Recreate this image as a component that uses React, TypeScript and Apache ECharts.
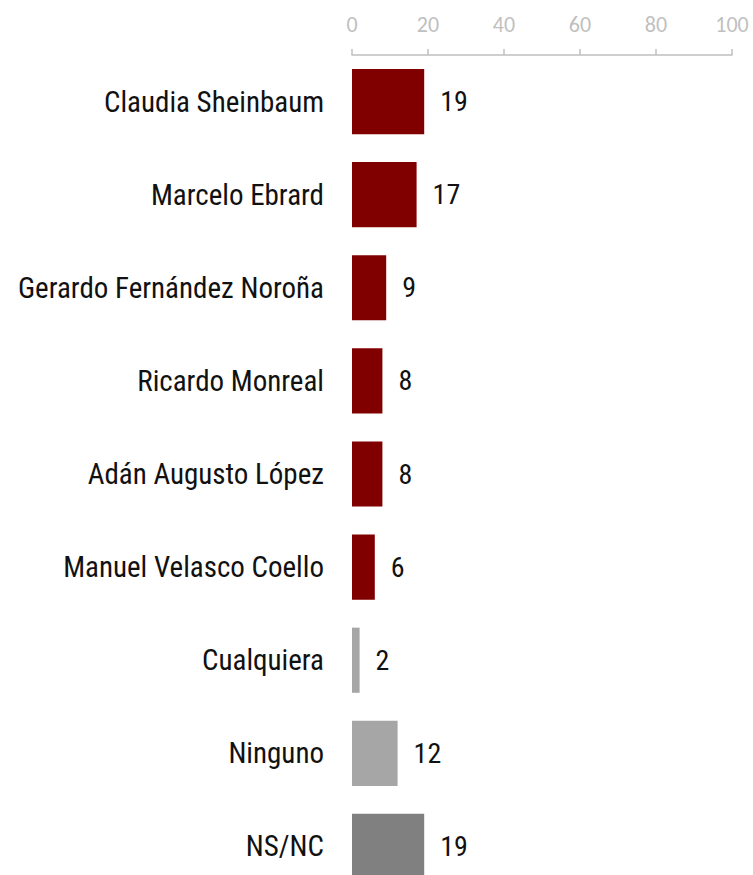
import React, { useEffect, useRef } from "react";
import * as echarts from "echarts";

const categories = [
  "Claudia Sheinbaum",
  "Marcelo Ebrard",
  "Gerardo Fernández Noroña",
  "Ricardo Monreal",
  "Adán Augusto López",
  "Manuel Velasco Coello",
  "Cualquiera",
  "Ninguno",
  "NS/NC",
];
const values = [19, 17, 9, 8, 8, 6, 2, 12, 19];
const barColors = [
  "#800000",
  "#800000",
  "#800000",
  "#800000",
  "#800000",
  "#800000",
  "#a6a6a6",
  "#a6a6a6",
  "#808080",
];
const labelFont = "'Roboto Condensed', 'Liberation Sans Narrow', 'DejaVu Sans Condensed', Roboto, sans-serif";

export default function App() {
  const ref = useRef<HTMLDivElement>(null);
  useEffect(() => {
    document.body.style.margin = "0";
    const chart = echarts.init(ref.current!, undefined, { renderer: "svg" });
    chart.setOption({
      animation: false,
      grid: { left: 352, right: 21, top: 55, bottom: 0, containLabel: false },
      xAxis: {
        type: "value",
        position: "top",
        min: 0,
        max: 100,
        interval: 20,
        splitLine: { show: false },
        axisLine: { show: true, lineStyle: { color: "#bfbfbf", width: 1.5 } },
        axisTick: { show: true, length: 6, lineStyle: { color: "#bfbfbf", width: 1.5 } },
        axisLabel: {
          color: "#bfbfbf",
          fontSize: 22,
          fontFamily: "Carlito, Calibri, 'Open Sans', sans-serif",
          margin: 20,
        },
      },
      yAxis: {
        type: "category",
        inverse: true,
        data: categories,
        axisLine: { show: false },
        axisTick: { show: false },
        axisLabel: {
          color: "#111",
          fontSize: 29,
          fontFamily: labelFont,
          margin: 28,
        },
      },
      series: [
        {
          type: "bar",
          data: values.map((v, i) => ({ value: v, itemStyle: { color: barColors[i] } })),
          barCategoryGap: "30%",
          label: {
            show: true,
            position: "right",
            distance: 16,
            color: "#111",
            fontSize: 28,
            fontFamily: labelFont,
          },
        },
      ],
    });
    return () => chart.dispose();
  }, []);
  return (
    <div style={{ width: 753, height: 875, overflow: "hidden", position: "relative" }}>
      <div ref={ref} style={{ width: 753, height: 893 }} />
    </div>
  );
}
